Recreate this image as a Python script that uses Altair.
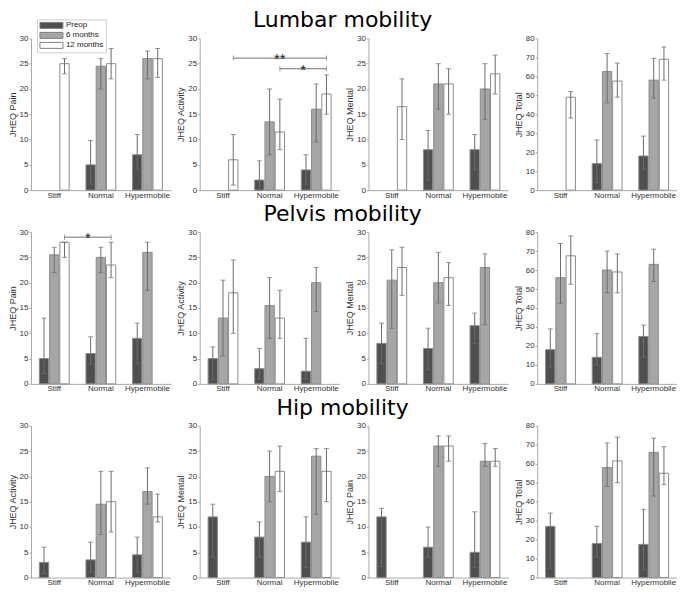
import altair as alt
import pandas as pd

categories = ["Stiff", "Normal", "Hypermobile"]
timepoints = ["Preop", "6 months", "12 months"]
colors = ["#4f4f4f", "#a6a6a6", "#ffffff"]
N = None

# each list: Stiff(Preop, 6m, 12m), Normal(...), Hypermobile(...)
# ---- Lumbar mobility
lumbar_pain_val = [N, N, 25, 5, 24.5, 25, 7, 26, 26]
lumbar_pain_lo = [N, N, 23, 1.2, 20, 22, 4, 22, 22.3]
lumbar_pain_hi = [N, N, 26, 9.8, 26, 28, 11, 27.5, 28]

lumbar_act_val = [N, N, 6, 2, 13.5, 11.5, 4, 16, 19]
lumbar_act_lo = [N, N, 1, 0, 7, 8, 1.2, 9.5, 15]
lumbar_act_hi = [N, N, 11, 5.8, 20, 18, 7, 21, 22.8]

lumbar_mental_val = [N, N, 16.5, 8, 21, 21, 8, 20, 23]
lumbar_mental_lo = [N, N, 10, 2, 16, 15, 4, 14, 19]
lumbar_mental_hi = [N, N, 22, 11.8, 25, 24, 11, 25, 26.7]

lumbar_total_val = [N, N, 49, 14, 62.5, 57.5, 18, 58, 69]
lumbar_total_lo = [N, N, 38, 4, 46, 49, 11, 48.5, 58]
lumbar_total_hi = [N, N, 52, 26.5, 72, 67, 28.5, 69.5, 75.5]

# ---- Pelvis mobility
pelvis_pain_val = [5, 25.5, 28, 6, 25, 23.5, 9, 26, N]
pelvis_pain_lo = [2, 22, 25, 3.8, 22, 21, 4, 18.5, N]
pelvis_pain_hi = [13, 27, 28, 9.3, 27, 28, 12, 28, N]

pelvis_act_val = [5, 13, 18, 3, 15.5, 13, 2.5, 20, N]
pelvis_act_lo = [0.8, 5.5, 10, 1, 9, 9, 1, 14.3, N]
pelvis_act_hi = [7.3, 20.5, 24.5, 7, 21, 18.5, 9, 23, N]

pelvis_mental_val = [8, 20.5, 23, 7, 20, 21, 11.5, 23, N]
pelvis_mental_lo = [4, 11, 17.5, 2.8, 16, 15.5, 8, 11.7, N]
pelvis_mental_hi = [12, 26.5, 27, 11, 26, 24, 14, 25.7, N]

pelvis_total_val = [18, 56, 67.5, 14, 60, 59, 25, 63, N]
pelvis_total_lo = [8.5, 42.5, 52.5, 10, 48, 48, 14, 54, N]
pelvis_total_hi = [29, 74, 78, 26.5, 70, 68.5, 31, 71, N]

# ---- Hip mobility
hip_act_val = [3, N, N, 3.5, 14.5, 15, 4.5, 17, 12]
hip_act_lo = [0.8, N, N, 1, 8.5, 9, 1, 14.5, 11]
hip_act_hi = [6, N, N, 7, 21, 21, 8, 21.7, 16.5]

hip_mental_val = [12, N, N, 8, 20, 21, 7, 24, 21]
hip_mental_lo = [4, N, N, 4, 15, 17, 2, 12.5, 15]
hip_mental_hi = [14.5, N, N, 11, 25, 26, 12, 25.5, 25.5]

hip_pain_val = [12, N, N, 6, 26, 26, 5, 23, 23]
hip_pain_lo = [2.2, N, N, 4, 22, 23, 2, 22, 22]
hip_pain_hi = [13.7, N, N, 10, 28, 28, 13, 26.5, 25.5]

hip_total_val = [27, N, N, 18, 58, 61.5, 17.5, 66, 55]
hip_total_lo = [5, N, N, 11, 48, 50, 4, 43, 49]
hip_total_hi = [34, N, N, 27, 71, 74, 36, 73.5, 69]

# significance brackets
lumbar_act_br_start = ["Stiff", "Normal"]
lumbar_act_br_end = ["Hypermobile", "Hypermobile"]
lumbar_act_br_y = [26.1, 24.0]
lumbar_act_br_label = ["**", "*"]

pelvis_pain_br_start = ["Stiff"]
pelvis_pain_br_end = ["Normal"]
pelvis_pain_br_y = [29.0]
pelvis_pain_br_label = ["*"]

W, H = 140, 152
ERR = "#6b6b6b"
BP = 0.72  # centre of the 12-month bar inside its band

legend_def = alt.Legend(
    orient="none", legendX=6, legendY=-19,
    symbolType="M-1,-1H6.67V1H-1Z", symbolSize=36,
    labelOffset=19, labelFontSize=8, labelFont="Liberation Sans", labelColor="#222",
    padding=2, strokeColor="#d0d0d0", fillColor="#ffffff",
    symbolStrokeColor="#808080", symbolStrokeWidth=1, rowPadding=0,
    labelLimit=60,
)


def panel(vals, los, his, ytitle, ymax, step, br=None):
    df = pd.DataFrame({
        "cat": [c for c in categories for _ in timepoints],
        "tp": timepoints * 3,
        "val": vals, "lo": los, "hi": his,
    }).dropna()
    xs = alt.Scale(domain=categories, paddingInner=0, paddingOuter=0)
    os_ = alt.Scale(domain=timepoints, paddingInner=0.09, paddingOuter=0.82)
    ys = alt.Scale(domain=[0, ymax], nice=False)
    xax = alt.Axis(ticks=False, labelAngle=0)
    yax = alt.Axis(values=list(range(0, ymax + 1, step)))
    base = alt.Chart(df)
    xenc = alt.X("cat:N", scale=xs, axis=xax, title=None)
    oenc = alt.XOffset("tp:N", scale=os_)

    def yenc(f):
        return alt.Y(f, scale=ys, axis=yax, title=ytitle)

    bars = base.mark_bar(stroke="#8c8c8c", strokeWidth=1).encode(
        x=xenc, xOffset=oenc, y=yenc("val:Q"),
        color=alt.Color("tp:N", scale=alt.Scale(domain=timepoints, range=colors),
                        title=None, legend=legend_def),
    )
    rules = base.mark_rule(color=ERR, strokeWidth=1).encode(
        x=xenc, xOffset=oenc, y=yenc("lo:Q"), y2="hi:Q",
    )
    caps = base.transform_fold(["lo", "hi"], as_=["which", "v"]).mark_tick(
        color=ERR, size=5, thickness=1).encode(
        x=xenc, xOffset=oenc, y=yenc("v:Q"),
    )
    layers = [bars, rules, caps]
    if br is not None:
        s, e, yv, lab = br
        idx = {c: i for i, c in enumerate(categories)}
        bdf = pd.DataFrame({"start": s, "end": e, "y": yv, "label": lab})
        bdf["span"] = [idx[b] - idx[a] for a, b in zip(s, e)]
        bdf["mid"] = [categories[idx[a] + 1] for a in s]
        bb = alt.Chart(bdf)
        line = bb.mark_rule(color="#707070", strokeWidth=1).encode(
            x=alt.X("start:N", scale=xs, axis=xax, title=None, bandPosition=BP),
            x2=alt.X2("end:N", bandPosition=BP),
            y=yenc("y:Q"),
        )
        ends = bb.transform_fold(["start", "end"], as_=["side", "c"]).mark_tick(
            color="#707070", orient="vertical", size=5, thickness=1).encode(
            x=alt.X("c:N", scale=xs, axis=xax, title=None, bandPosition=BP),
            y=yenc("y:Q"),
        )
        t2 = bb.transform_filter("datum.span == 2").mark_text(
            fontSize=15, baseline="alphabetic", dy=6, color="#222", font="Liberation Sans").encode(
            x=alt.X("mid:N", scale=xs, axis=xax, title=None, bandPosition=BP),
            y=yenc("y:Q"), text="label:N",
        )
        t1 = bb.transform_filter("datum.span == 1").mark_text(
            fontSize=15, baseline="alphabetic", dy=6, color="#222", font="Liberation Sans").encode(
            x=alt.X("end:N", scale=xs, axis=xax, title=None, bandPosition=BP - 0.5),
            y=yenc("y:Q"), text="label:N",
        )
        layers += [line, ends, t2, t1]
    return alt.layer(*layers).properties(width=W, height=H)


def row(title, panels):
    return alt.hconcat(*panels, spacing=6).properties(
        title=alt.TitleParams(title, fontSize=22, font="DejaVu Sans", fontWeight="normal",
                              anchor="middle", color="#000", offset=2))


r1 = row("Lumbar mobility", [
    panel(lumbar_pain_val, lumbar_pain_lo, lumbar_pain_hi, "JHEQ Pain", 30, 5),
    panel(lumbar_act_val, lumbar_act_lo, lumbar_act_hi, "JHEQ Activity", 30, 5,
          (lumbar_act_br_start, lumbar_act_br_end, lumbar_act_br_y, lumbar_act_br_label)),
    panel(lumbar_mental_val, lumbar_mental_lo, lumbar_mental_hi, "JHEQ Mental", 30, 5),
    panel(lumbar_total_val, lumbar_total_lo, lumbar_total_hi, "JHEQ Total", 80, 10),
])
r2 = row("Pelvis mobility", [
    panel(pelvis_pain_val, pelvis_pain_lo, pelvis_pain_hi, "JHEQ Pain", 30, 5,
          (pelvis_pain_br_start, pelvis_pain_br_end, pelvis_pain_br_y, pelvis_pain_br_label)),
    panel(pelvis_act_val, pelvis_act_lo, pelvis_act_hi, "JHEQ Activity", 30, 5),
    panel(pelvis_mental_val, pelvis_mental_lo, pelvis_mental_hi, "JHEQ Mental", 30, 5),
    panel(pelvis_total_val, pelvis_total_lo, pelvis_total_hi, "JHEQ Total", 80, 10),
])
r3 = row("Hip mobility", [
    panel(hip_act_val, hip_act_lo, hip_act_hi, "JHEQ Activity", 30, 5),
    panel(hip_mental_val, hip_mental_lo, hip_mental_hi, "JHEQ Mental", 30, 5),
    panel(hip_pain_val, hip_pain_lo, hip_pain_hi, "JHEQ Pain", 30, 5),
    panel(hip_total_val, hip_total_lo, hip_total_hi, "JHEQ Total", 80, 10),
])

chart = alt.vconcat(r1, r2, r3, spacing=4).resolve_scale(color="shared").resolve_legend(
    color="shared").properties(
    padding={"left": 0, "top": 1, "right": 0, "bottom": 0}
).configure_view(strokeOpacity=0).configure_axis(
    domainColor="#a8a8a8", tickColor="#a8a8a8", labelColor="#333", titleColor="#333",
    labelFont="Liberation Sans", titleFont="Liberation Sans", labelFontSize=8,
    titleFontSize=9, titleFontWeight="normal", grid=False, tickSize=2,
    labelPadding=1, titlePadding=2,
)

chart.save("out.html", embed_options={"renderer": "svg", "actions": False})
